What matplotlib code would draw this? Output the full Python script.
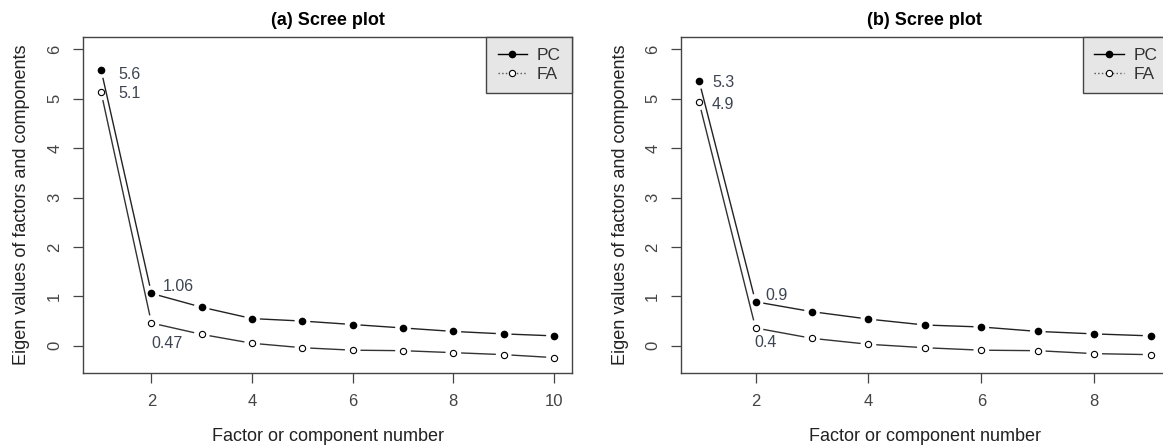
import numpy as np
import matplotlib

matplotlib.use("Agg")
import matplotlib.pyplot as plt  # noqa: E402
from matplotlib.lines import Line2D  # noqa: E402

plt.rcParams["font.family"] = ["Liberation Sans", "DejaVu Sans"]

# valores
comp_a = list(range(1, 11))
pc_a = [5.58, 1.06, 0.78, 0.55, 0.50, 0.43, 0.36, 0.29, 0.24, 0.20]
fa_a = [5.13, 0.46, 0.23, 0.05, -0.04, -0.09, -0.10, -0.14, -0.18, -0.24]
lab_a = ["5.6", "5.1", "1.06", "0.47"]

comp_b = list(range(1, 10))
pc_b = [5.36, 0.89, 0.69, 0.54, 0.42, 0.38, 0.29, 0.24, 0.20]
fa_b = [4.93, 0.36, 0.15, 0.03, -0.04, -0.09, -0.10, -0.16, -0.18]
lab_b = ["5.3", "4.9", "0.9", "0.4"]

BOX = "#444444"
TXT = "#3c4452"


def type_b(ax, x, y, gap=8.5, **kw):
    # lineas estilo R type="b": cortadas alrededor de cada punto
    pts = ax.transData.transform(np.column_stack([x, y]))
    inv = ax.transData.inverted()
    for p, q in zip(pts[:-1], pts[1:]):
        d = q - p
        n = np.hypot(*d)
        if n <= 2 * gap:
            continue
        u = d / n
        seg = inv.transform(np.array([p + u * gap, q - u * gap]))
        ax.plot(seg[:, 0], seg[:, 1], **kw)


def panel(ax, x, pc, fa, labels, title, xticks, offsets):
    ax.set_xlim(x[0] - 0.04 * (x[-1] - x[0]), x[-1] + 0.04 * (x[-1] - x[0]))
    ax.set_ylim(-0.3 - 0.04 * 6.3, 6 + 0.04 * 6.3)
    type_b(ax, x, pc, color="#222222", lw=1.0)
    type_b(ax, x, fa, color="#333333", lw=1.0)
    ax.plot(x, pc, "o", ms=4.5, color="black", ls="none")
    ax.plot(x, fa, "o", ms=4.5, mfc="white", mec="black", mew=0.8, ls="none")

    anchors = [(x[0], pc[0]), (x[0], fa[0]), (x[1], pc[1]), (x[1], fa[1])]
    for txt, (ax_x, ax_y), off in zip(labels, anchors, offsets):
        ax.annotate(txt, (ax_x, ax_y), xytext=off, textcoords="offset pixels",
                    ha="center", va="center", fontsize=11.5, color=TXT)

    ax.set_xticks(xticks)
    ax.set_yticks(range(0, 7))
    ax.tick_params(colors=BOX, labelcolor="#444444", labelsize=12,
                   length=7, width=0.9, pad=8)
    for lbl in ax.get_yticklabels():
        lbl.set_rotation(90)
        lbl.set_va("center")
    for s in ax.spines.values():
        s.set_color(BOX)
        s.set_linewidth(1.0)

    ax.set_title(title, fontsize=13, fontweight="bold", pad=9)
    ax.set_xlabel("Factor or component number", fontsize=13,
                  color="#222222")
    ax.xaxis.set_label_coords(0.5, -0.19)
    ax.xaxis.label.set_va("center")
    ax.set_ylabel("Eigen values of factors and components", fontsize=13,
                  color="#222222")
    ax.yaxis.set_label_coords(-0.125, 0.5)
    ax.yaxis.label.set_va("center")

    handles = [
        Line2D([], [], color="black", lw=1.0, marker="o", ms=4.5),
        Line2D([], [], color="#555555", lw=1.0, ls=":", marker="o", ms=4.5,
               mfc="white", mec="black", mew=0.8),
    ]
    leg = ax.legend(handles, ["PC", "FA"], loc="upper right", borderaxespad=0,
                    fontsize=12.5, handlelength=1.7, handletextpad=0.55,
                    labelspacing=0.2, borderpad=0.65, fancybox=False,
                    framealpha=1, facecolor="#e6e6e6", edgecolor=BOX)
    for t in leg.get_texts():
        t.set_color("#333333")


def run():
    fig = plt.figure(figsize=(11.63, 4.48), dpi=100)
    ax_a = fig.add_axes([0.0714, 0.1674, 0.4205, 0.75])
    ax_b = fig.add_axes([0.5856, 0.1674, 0.4193, 0.75])

    panel(ax_a, comp_a, pc_a, fa_a, lab_a, "(a) Scree plot", [2, 4, 6, 8, 10],
          [(28, -4), (28, -1), (27, 7), (16, -20)])
    panel(ax_b, comp_b, pc_b, fa_b, lab_b, "(b) Scree plot", [2, 4, 6, 8],
          [(24, -1), (24, -2), (21, 6), (10, -15)])

    fig.savefig("out.png", dpi=100)


if __name__ == "__main__":
    run()
